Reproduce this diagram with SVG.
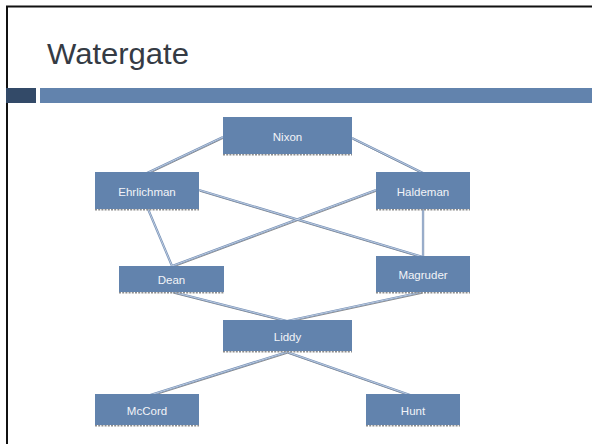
<svg xmlns="http://www.w3.org/2000/svg" width="592" height="444" viewBox="0 0 592 444">
<style>
.box{fill:#6283ad}
.sh{stroke:#8c8c8c;stroke-width:1.5;stroke-dasharray:2 1.2;fill:none}
.lbl{font-family:"Liberation Sans",Arial,sans-serif;font-size:11.5px;fill:#f2f4f8;text-anchor:middle}
.ls{stroke:#8d8d8d;stroke-width:1;fill:none}
.lm{stroke:#7590b6;stroke-width:2.2;fill:none}
.lh{stroke:#dbe4f1;stroke-width:0.7;fill:none}
</style>
<defs>
<g id="edges-def">
<path d="M223,137 L147,173"/>
<path d="M352,138 L423,173"/>
<path d="M199,190 L423,257"/>
<path d="M376,190 L172,266"/>
<path d="M148,209 L172,266"/>
<path d="M423,209 L423,257"/>
<path d="M173,292 L287,321"/>
<path d="M422,292 L287,321"/>
<path d="M287,352 L147,396"/>
<path d="M287,352 L413,396"/>
</g>
</defs>
<rect width="592" height="444" fill="#ffffff"/>
<path d="M7,444 L7,6.5 L592,6.5" fill="none" stroke="#111" stroke-width="2"/>
<text x="47" y="64" font-family="'Liberation Sans',Arial,sans-serif" font-size="29" fill="#353b44" textLength="142" lengthAdjust="spacingAndGlyphs">Watergate</text>
<rect x="6" y="88" width="30" height="15" fill="#334a68"/>
<rect x="40" y="88" width="552" height="15" fill="#6283ad"/>
<g id="connectors">
<use href="#edges-def" class="ls" transform="translate(0.6,1.2)"/>
<use href="#edges-def" class="lm"/>
<use href="#edges-def" class="lh"/>
</g>
<g id="nixon"><rect class="box" x="223" y="117" width="129" height="37"/><line class="sh" x1="223" y1="154.7" x2="352" y2="154.7"/><text class="lbl" x="287.5" y="140.5">Nixon</text></g>
<g id="ehrlichman"><rect class="box" x="95" y="172" width="104" height="37"/><line class="sh" x1="95" y1="209.7" x2="199" y2="209.7"/><text class="lbl" x="147" y="195.5">Ehrlichman</text></g>
<g id="haldeman"><rect class="box" x="376" y="172" width="94" height="37"/><line class="sh" x1="376" y1="209.7" x2="470" y2="209.7"/><text class="lbl" x="423" y="195.5">Haldeman</text></g>
<g id="dean"><rect class="box" x="119" y="266" width="105" height="26"/><line class="sh" x1="119" y1="292.7" x2="224" y2="292.7"/><text class="lbl" x="171.5" y="283.5">Dean</text></g>
<g id="magruder"><rect class="box" x="376" y="256" width="94" height="36"/><line class="sh" x1="376" y1="292.7" x2="470" y2="292.7"/><text class="lbl" x="423" y="278.5">Magruder</text></g>
<g id="liddy"><rect class="box" x="223" y="320" width="129" height="31"/><line class="sh" x1="223" y1="351.7" x2="352" y2="351.7"/><text class="lbl" x="287.5" y="340.5">Liddy</text></g>
<g id="mccord"><rect class="box" x="95" y="394" width="104" height="31"/><line class="sh" x1="95" y1="425.7" x2="199" y2="425.7"/><text class="lbl" x="147" y="414.5">McCord</text></g>
<g id="hunt"><rect class="box" x="366" y="394" width="94" height="31"/><line class="sh" x1="366" y1="425.7" x2="460" y2="425.7"/><text class="lbl" x="413" y="414.5">Hunt</text></g>
</svg>
